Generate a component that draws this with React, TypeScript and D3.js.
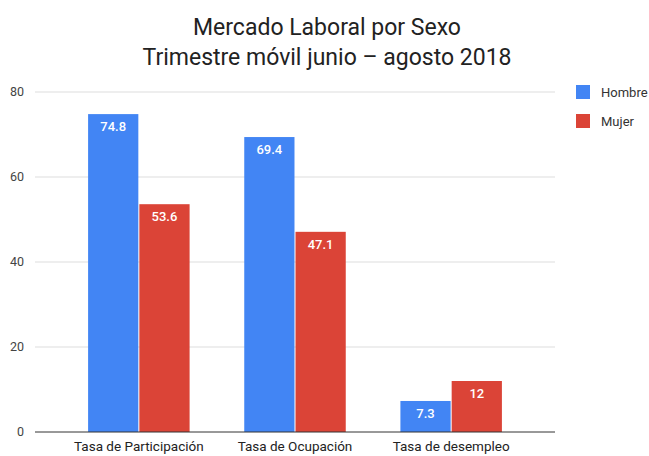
import React from "react";
import * as d3 from "d3";

const categories = ["Tasa de Participación", "Tasa de Ocupación", "Tasa de desempleo"];
const series = ["Hombre", "Mujer"];
const hombre = [74.8, 69.4, 7.3];
const mujer = [53.6, 47.1, 12];
const yTicks = [0, 20, 40, 60, 80];
const colors = ["#4285F4", "#DB4437"];

const width = 649;
const height = 456;
const margin = { top: 92, right: 94, bottom: 24, left: 35 };

const App = () => {
  const x0 = d3
    .scaleBand()
    .domain(categories)
    .range([margin.left, width - margin.right])
    .paddingInner(0.35)
    .paddingOuter(0.34);
  const x1 = d3.scaleBand().domain(series).range([0, x0.bandwidth()]).paddingInner(0.02);
  const y = d3.scaleLinear().domain([0, 80]).range([height - margin.bottom, margin.top]);

  const values = [hombre, mujer];

  return (
    <svg
      width={width}
      height={height}
      style={{ position: "absolute", left: 0, top: 0, fontFamily: "Roboto, sans-serif", background: "#fff" }}
    >
      {/* title */}
      <text x={327} y={35} textAnchor="middle" fontSize={23} fill="#222">
        Mercado Laboral por Sexo
      </text>
      <text x={327} y={65} textAnchor="middle" fontSize={23} fill="#222">
        Trimestre móvil junio – agosto 2018
      </text>

      {/* grid + y ticks */}
      {yTicks.map((t) => (
        <g key={t}>
          {t !== 0 && (
            <line x1={margin.left} x2={width - margin.right} y1={y(t)} y2={y(t)} stroke="#ddd" />
          )}
          <text x={margin.left - 11} y={y(t)} dy="0.35em" textAnchor="end" fontSize={12.5} fill="#444">
            {t}
          </text>
        </g>
      ))}

      {/* bars */}
      {categories.map((c, i) => (
        <g key={c} transform={`translate(${x0(c)},0)`}>
          {series.map((s, j) => {
            const v = values[j][i];
            return (
              <g key={s}>
                <rect
                  x={x1(s)}
                  y={y(v)}
                  width={x1.bandwidth()}
                  height={y(0) - y(v)}
                  fill={colors[j]}
                />
                <text
                  x={(x1(s) as number) + x1.bandwidth() / 2}
                  y={y(v) + 17}
                  textAnchor="middle"
                  fontSize={13}
                  fontWeight={500}
                  fill="#fff"
                >
                  {v}
                </text>
              </g>
            );
          })}
          <text
            x={x0.bandwidth() / 2}
            y={height - margin.bottom + 19}
            textAnchor="middle"
            fontSize={13.5}
            fill="#222"
          >
            {c}
          </text>
        </g>
      ))}

      {/* baseline */}
      <line
        x1={margin.left}
        x2={width - margin.right}
        y1={y(0)}
        y2={y(0)}
        stroke="#333"
      />

      {/* legend */}
      {series.map((s, j) => (
        <g key={s} transform={`translate(576,${85 + j * 29})`}>
          <rect width={14} height={14} fill={colors[j]} />
          <text x={25} y={7} dy="0.35em" fontSize={13} fill="#333">
            {s}
          </text>
        </g>
      ))}
    </svg>
  );
};

export default App;
